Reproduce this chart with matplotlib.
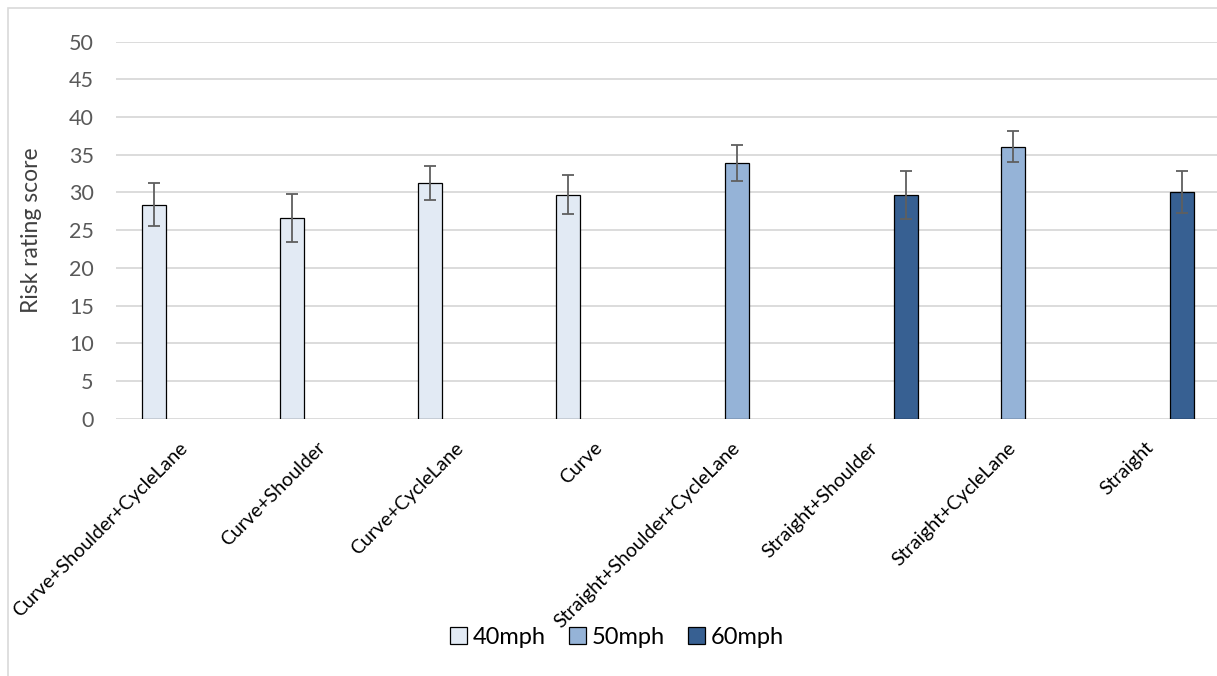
import numpy as np
import matplotlib.pyplot as plt
from matplotlib.patches import Rectangle

plt.rcParams['font.family'] = ['Lato', 'DejaVu Sans']

categories = ["Curve+Shoulder+CycleLane", "Curve+Shoulder", "Curve+CycleLane", "Curve",
              "Straight+Shoulder+CycleLane", "Straight+Shoulder", "Straight+CycleLane", "Straight"]
series = ["40mph", "50mph", "60mph"]
# each category has a value in one series only (nan elsewhere)
nan = np.nan
vals_40 = [28.4, 26.6, 31.2, 29.7, nan, nan, nan, nan]
vals_50 = [nan, nan, nan, nan, 33.9, nan, 36.1, nan]
vals_60 = [nan, nan, nan, nan, nan, 29.7, nan, 30.1]
err_40 = [2.8, 3.2, 2.25, 2.6, nan, nan, nan, nan]
err_50 = [nan, nan, nan, nan, 2.4, nan, 2.1, nan]
err_60 = [nan, nan, nan, nan, nan, 3.2, nan, 2.8]
colors = ["#E2EAF4", "#95B3D7", "#376092"]
yticks = [0, 5, 10, 15, 20, 25, 30, 35, 40, 45, 50]

W, H = 1217, 676
fig = plt.figure(figsize=(W / 100, H / 100), dpi=100)
fig.patches.append(Rectangle((8 / W, -0.1), 1.0, 1.1 - 7.5 / H, transform=fig.transFigure,
                             fill=False, edgecolor="#D9D9D9", linewidth=1.2))
ax = fig.add_axes([116 / W, 1 - 418.7 / H, 1104 / W, (418.7 - 41.7) / H])

x = np.arange(len(categories))
width = 0.174
step = 0.2225
for i, (vals, errs) in enumerate(zip([vals_40, vals_50, vals_60], [err_40, err_50, err_60])):
    ax.bar(x + (i - 1) * step, vals, width, color=colors[i], edgecolor="black",
           linewidth=0.9, label=series[i], zorder=3)
    ax.errorbar(x + (i - 1) * step, vals, yerr=errs, fmt="none", ecolor="#5F5F5F",
                elinewidth=1.3, capsize=4.5, capthick=1.3, zorder=4)

ax.set_xlim(-0.5, len(categories) - 0.5)
ax.set_ylim(0, 50)
ax.set_yticks(yticks)
ax.grid(axis="y", color="#D9D9D9", linewidth=1.3, zorder=0)
for s in ax.spines.values():
    s.set_visible(False)
ax.tick_params(axis="both", length=0)
ax.tick_params(axis="y", labelsize=15.5, labelcolor="#595959", pad=16)
ax.set_xticks(x)
ax.set_xticklabels(categories, rotation=45, ha="right", va="center",
                   rotation_mode="anchor", fontsize=14, color="black")
ax.tick_params(axis="x", pad=19)
ax.set_ylabel("Risk rating score", fontsize=16.5, color="#404040", labelpad=19)

fig.legend(loc="center", bbox_to_anchor=(617 / W, 1 - 637 / H), ncol=3, frameon=False,
           fontsize=17, handlelength=0.7, handleheight=0.7, handletextpad=0.25,
           columnspacing=1.0)

fig.savefig("out.png", dpi=100)
